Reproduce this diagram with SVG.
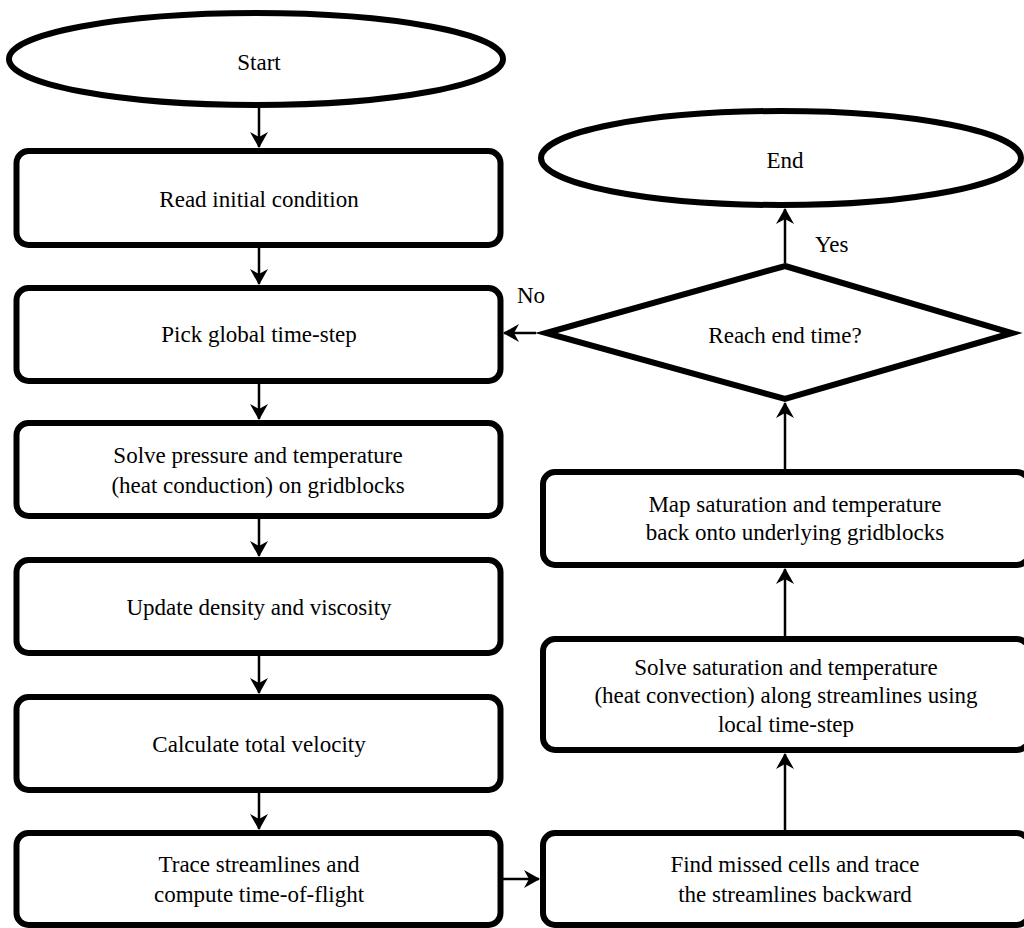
<svg xmlns="http://www.w3.org/2000/svg" width="1024" height="928" viewBox="0 0 1024 928">
<style>
.n{fill:#fff;stroke:#000;stroke-width:6}
.t{font-family:'Liberation Serif','Times New Roman','DejaVu Serif',serif;font-size:23px;fill:#000;text-anchor:middle}
.l{font-family:'Liberation Serif','Times New Roman','DejaVu Serif',serif;font-size:23px;fill:#000}
.c{stroke:#000;stroke-width:2.5;fill:none;marker-end:url(#ah)}
</style>
<defs>
<marker id="ah" viewBox="0 0 16 18" refX="15" refY="9" markerWidth="16" markerHeight="18" orient="auto" markerUnits="userSpaceOnUse">
<path d="M0,0 L16,9 L0,18 L5,9 Z" fill="#000"/>
</marker>
</defs>
<rect width="1024" height="928" fill="#fff"/>
<g id="connectors">
<line class="c" x1="259" y1="108" x2="259" y2="147"/>
<line class="c" x1="259" y1="248" x2="259" y2="284"/>
<line class="c" x1="259" y1="383" x2="259" y2="419"/>
<line class="c" x1="259" y1="519" x2="259" y2="556"/>
<line class="c" x1="259" y1="655" x2="259" y2="693"/>
<line class="c" x1="259" y1="792" x2="259" y2="829"/>
<line class="c" x1="503" y1="879" x2="539" y2="879"/>
<line class="c" x1="785" y1="830" x2="785" y2="754"/>
<line class="c" x1="785" y1="636" x2="785" y2="569"/>
<line class="c" x1="785" y1="469" x2="785" y2="403"/>
<line class="c" x1="785" y1="263" x2="785" y2="209"/>
<line class="c" x1="536" y1="333" x2="504" y2="333"/>
<text class="l" x="517" y="303">No</text>
<text class="l" x="815" y="252">Yes</text>
</g>
<g id="start">
<ellipse class="n" cx="256" cy="59" rx="247" ry="46"/>
<text class="t" x="259" y="70">Start</text>
</g>
<g id="read">
<rect class="n" x="16.5" y="151" width="484" height="94" rx="12"/>
<text class="t" x="259" y="207">Read initial condition</text>
</g>
<g id="pick">
<rect class="n" x="16.5" y="288" width="484" height="93" rx="12"/>
<text class="t" x="259" y="342">Pick global time-step</text>
</g>
<g id="solvep">
<rect class="n" x="16.5" y="423" width="484" height="93" rx="12"/>
<text class="t" x="258" y="463">Solve pressure and temperature</text>
<text class="t" x="258" y="493">(heat conduction) on gridblocks</text>
</g>
<g id="update">
<rect class="n" x="16.5" y="560" width="484" height="93" rx="12"/>
<text class="t" x="259" y="615">Update density and viscosity</text>
</g>
<g id="calc">
<rect class="n" x="16.5" y="697" width="484" height="93" rx="12"/>
<text class="t" x="259" y="752">Calculate total velocity</text>
</g>
<g id="trace">
<rect class="n" x="16.5" y="833" width="484" height="92" rx="12"/>
<text class="t" x="259" y="872">Trace streamlines and</text>
<text class="t" x="259" y="902">compute time-of-flight</text>
</g>
<g id="find">
<rect class="n" x="543" y="833" width="486" height="92" rx="12"/>
<text class="t" x="795" y="872">Find missed cells and trace</text>
<text class="t" x="795" y="902">the streamlines backward</text>
</g>
<g id="solves">
<rect class="n" x="543" y="639" width="486" height="111" rx="12"/>
<text class="t" x="786" y="675">Solve saturation and temperature</text>
<text class="t" x="786" y="703">(heat convection) along streamlines using</text>
<text class="t" x="786" y="732">local time-step</text>
</g>
<g id="map">
<rect class="n" x="543" y="472" width="486" height="93" rx="12"/>
<text class="t" x="795" y="512">Map saturation and temperature</text>
<text class="t" x="795" y="540">back onto underlying gridblocks</text>
</g>
<g id="decision">
<polygon class="n" points="785,266 1012,333 785,399 546,333"/>
<text class="t" x="785" y="343">Reach end time?</text>
</g>
<g id="end">
<ellipse class="n" cx="781" cy="158" rx="240" ry="47"/>
<text class="t" x="785" y="168">End</text>
</g>
</svg>
